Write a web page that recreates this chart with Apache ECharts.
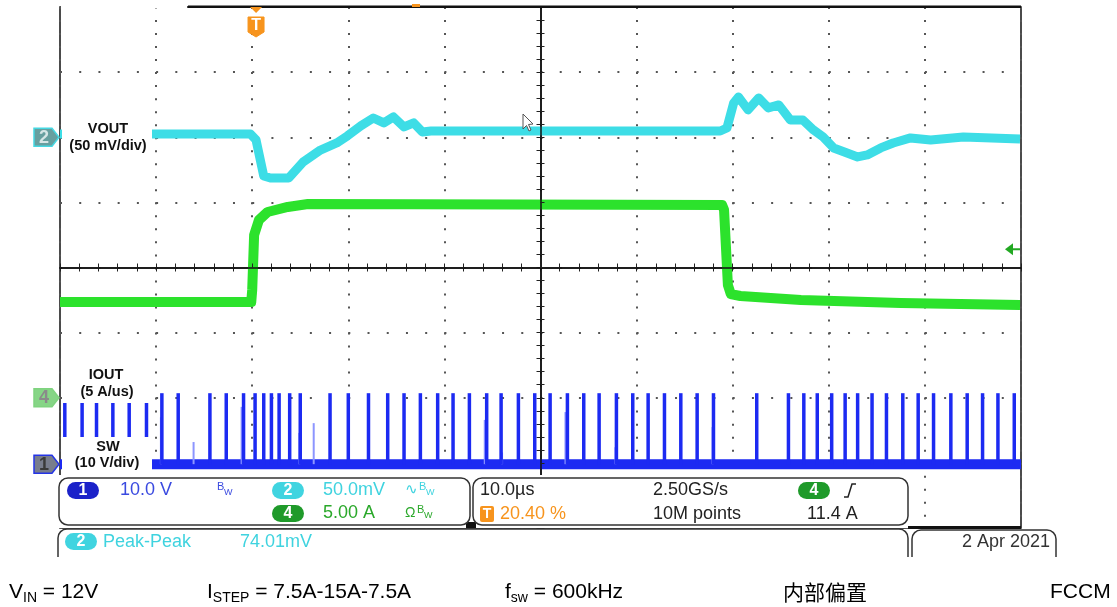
<!DOCTYPE html>
<html>
<head>
<meta charset="utf-8">
<style>html,body{margin:0;padding:0;background:#fff;}#c{width:1117px;height:607px;}</style>
<script src="https://cdn.jsdelivr.net/npm/echarts/dist/echarts.min.js"></script>
</head>
<body>
<div id="c"></div>
<script>
// ---------------- data (time in µs relative to screen centre) ----------------
// Channel 2 : VOUT, AC deviation in mV (50 mV/div)
const voutTime = [-50, -40.3, -30.2, -29.6, -28.8, -28.1, -26.2, -24.7, -22.9, -21.2, -20.1, -18.7, -17.4, -16.3, -15.3, -14.2, -13.2, -12.3, -11.4, 0, 18.7, 19.4, 20.1, 20.6, 21.6, 22.7, 23.7, 24.8, 26.0, 27.3, 28.4, 29.4, 30.5, 31.9, 33.0, 34.0, 35.4, 36.7, 38.5, 40.6, 44.0, 49.9];
const voutMv   = [2.5, 2.5, 2.5, -2.1, -29.7, -31.3, -31.3, -19.0, -9.8, -4.4, 1.0, 8.7, 14.8, 11.0, 15.6, 7.9, 11.0, 4.1, 4.8, 4.8, 4.8, 7.1, 26.3, 30.9, 21.0, 30.2, 22.5, 24.8, 13.3, 13.3, 5.6, 0.2, -8.2, -12.1, -15.1, -13.6, -8.2, -4.4, -0.5, -2.1, 0.2, -1.3];
// Channel 4 : IOUT in A (5 A/div)
const ioutTime = [-50, -30.1, -30.0, -29.8, -29.3, -28.4, -26.3, -24.2, 18.9, 19.1, 19.5, 19.8, 20.8, 27.1, 37.5, 49.9];
const ioutAmp  = [7.35, 7.35, 8.27, 12.5, 13.65, 14.26, 14.65, 14.88, 14.8, 14.42, 8.66, 7.96, 7.81, 7.50, 7.27, 7.12];
// Channel 1 : SW node in V (10 V/div) - switching pulses
const swPulseTime = [-49.5, -47.7, -46.2, -44.5, -42.8, -41.0, -39.4, -37.7, -34.4, -32.7, -30.9, -29.7, -28.8, -28.0, -27.2, -26.1, -25.0, -21.9, -20.0, -17.9, -15.9, -14.2, -12.5, -10.7, -9.1, -7.4, -5.6, -4.1, -2.3, -0.6, 1.0, 2.8, 4.5, 6.1, 7.9, 9.6, 11.2, 12.9, 14.6, 16.3, 18.0, 22.5, 25.8, 27.4, 28.8, 30.3, 31.7, 33.0, 34.5, 36.0, 37.7, 39.3, 40.9, 42.7, 44.4, 46.0, 47.6, 49.3];
const swPulseVolt = [10.9, 10.9, 10.9, 10.9, 10.9, 10.9, 10.9, 10.9, 10.9, 10.9, 10.9, 10.9, 10.9, 10.9, 10.9, 10.9, 10.9, 10.9, 10.9, 10.9, 10.9, 10.9, 10.9, 10.9, 10.9, 10.9, 10.9, 10.9, 10.9, 10.9, 10.9, 10.9, 10.9, 10.9, 10.9, 10.9, 10.9, 10.9, 10.9, 10.9, 10.9, 10.9, 10.9, 10.9, 10.9, 10.9, 10.9, 10.9, 10.9, 10.9, 10.9, 10.9, 10.9, 10.9, 10.9, 10.9, 10.9, 10.9];
const swRuntTime = [-39.5, -36.1, -31.1, -25.1, -23.6, -5.8, -4.0, 2.6, 7.8, 17.9];
const swRuntVolt = [7.2, 3.4, 8.8, 4.8, 6.3, 6.8, 1.8, 8.0, 2.6, 5.7];
const swBaseTime = [-50, 50];
const swBaseVolt = [0, 0];

// channel settings (scale per division, ground position in divisions)
const CH2_SCALE = 50, CH2_POS = 2.0;
const CH4_SCALE = 5, CH4_POS = -2.0;
const CH1_SCALE = 10, CH1_POS = -3.02;
const TRIG_TIME = -29.6;
const TRIG_LEVEL = 11.4;

// ---------------- chart ----------------
const chart = echarts.init(document.getElementById('c'), null, {renderer: 'canvas'});
const CYAN = '#3ddde6', GREEN = '#2ce22c', BLUE = '#1c2af2';

function pulseSeries(times, volts, width, color, z) {
  return {
    type: 'custom', xAxisIndex: 0, yAxisIndex: 0, silent: true, z: z, clip: false,
    data: times.map((t, i) => [t, volts[i]]),
    renderItem: function (params, api) {
      const t = api.value(0), v = api.value(1);
      const p0 = api.coord([t, CH1_POS]);
      const p1 = api.coord([t, CH1_POS + v / CH1_SCALE]);
      return {type: 'line', shape: {x1: p0[0], y1: p0[1], x2: p1[0], y2: p1[1]},
              style: {stroke: color, lineWidth: width}};
    }
  };
}

const tickStyle = {color: '#222', width: 1};
function xAx(pos, split, z) {
  return {
    type: 'value', min: -50, max: 50, interval: 10, position: pos, z: z,
    axisLabel: {show: false},
    axisLine: {show: true, onZero: true, onZeroAxisIndex: 0, lineStyle: {color: '#111', width: 1.5}},
    axisTick: {show: true, length: 4, lineStyle: tickStyle},
    minorTick: {show: true, splitNumber: 5, length: 4, lineStyle: tickStyle},
    splitLine: {show: split, lineStyle: {color: '#555', width: 2, type: [2, 11.02]}}
  };
}
function yAx(pos, split, z) {
  return {
    type: 'value', min: -4, max: 4, interval: 1, position: pos, z: z,
    axisLabel: {show: false},
    axisLine: {show: true, onZero: true, onZeroAxisIndex: 0, lineStyle: {color: '#111', width: 1.5}},
    axisTick: {show: true, length: 4, lineStyle: tickStyle},
    minorTick: {show: true, splitNumber: 5, length: 4, lineStyle: tickStyle},
    splitLine: {show: split, lineStyle: {color: '#555', width: 2, type: [2, 17.22]}}
  };
}

const option = {
  animation: false,
  backgroundColor: '#fff',
  grid: {left: 60, top: 7, width: 961, height: 521, show: true, borderColor: '#111', borderWidth: 1.5, backgroundColor: 'transparent'},
  xAxis: [xAx('bottom', true, 1), xAx('top', false, 10)],
  yAxis: [yAx('left', true, 1), yAx('right', false, 10)],
  series: [
    {type: 'line', name: 'VOUT', showSymbol: false, symbol: 'none', z: 3,
     data: voutTime.map((t, i) => [t, CH2_POS + voutMv[i] / CH2_SCALE]),
     lineStyle: {color: CYAN, width: 9, join: 'round'}},
    {type: 'line', name: 'IOUT', showSymbol: false, symbol: 'none', z: 3,
     data: ioutTime.map((t, i) => [t, CH4_POS + ioutAmp[i] / CH4_SCALE]),
     lineStyle: {color: GREEN, width: 10, join: 'round'}},
    {type: 'line', name: 'SW', showSymbol: false, symbol: 'none', z: 3,
     data: swBaseTime.map((t, i) => [t, CH1_POS + swBaseVolt[i] / CH1_SCALE]),
     lineStyle: {color: BLUE, width: 10}},
    pulseSeries(swRuntTime, swRuntVolt, 2, '#8c95ff', 4),
    pulseSeries(swPulseTime, swPulseVolt, 3.5, BLUE, 5)
  ]
};
chart.setOption(option);

// ---------------- annotations ----------------
const px = (t, v) => chart.convertToPixel({xAxisIndex: 0, yAxisIndex: 0}, [t, v]);
const mctx = document.createElement('canvas').getContext('2d');
function tw(text, font) { mctx.font = font; return mctx.measureText(text).width; }

const SANS = '"Liberation Sans", Arial, sans-serif';
function txt(x, y, text, font, fill, align) {
  align = align || 'left';
  return {type: 'text', z: 120, silent: true,
    style: {x: x, y: y, text: text, font: font, fill: fill,
            textAlign: align, align: align, textVerticalAlign: 'middle', verticalAlign: 'middle'}};
}
function rect(x, y, w, h, fill, stroke, lw, r, z) {
  return {type: 'rect', z: z || 100, silent: true, shape: {x: x, y: y, width: w, height: h, r: r || 0},
          style: {fill: fill, stroke: stroke || null, lineWidth: lw || 0}};
}
function poly(points, fill, stroke, lw, z) {
  return {type: 'polygon', z: z || 105, silent: true, shape: {points: points},
          style: {fill: fill, stroke: stroke || null, lineWidth: lw || 0}};
}
function pline(points, stroke, lw, z) {
  return {type: 'polyline', z: z || 105, silent: true, shape: {points: points},
          style: {stroke: stroke, lineWidth: lw, fill: null}};
}
function pill(x, y, label, fill) {
  return [rect(x, y, 32, 17, fill, null, 0, 8.5, 110),
          txt(x + 16, y + 8.5, label, 'bold 16px ' + SANS, '#fff', 'center')];
}
function chMarker(y, label, fill, stroke, digit) {
  return [poly([[34, y - 9], [52, y - 9], [59, y], [52, y + 9], [34, y + 9]], fill, stroke, 1.5, 105),
          txt(44, y + 0.5, label, 'bold 18px ' + SANS, digit, 'center')];
}
function bw(x, y, color) {
  return [txt(x, y - 3, 'B', '11px ' + SANS, color), txt(x + 7, y + 3, 'W', '9px ' + SANS, color)];
}

const g = [];
const yCh2 = px(0, CH2_POS)[1], yCh4 = px(0, CH4_POS)[1], yCh1 = px(0, CH1_POS)[1];
const xTrig = px(TRIG_TIME, 0)[0];
const yTrigLvl = px(0, CH4_POS + TRIG_LEVEL / CH4_SCALE)[1];
const right = px(50, 0)[0];

// top record bar
g.push(rect(61, 5.5, 126, 3, '#fff', null, 0, 0, 99));
g.push(rect(188, 5.5, right - 188, 2.5, '#111', null, 0, 0, 100));
g.push(rect(412, 4, 8, 3, '#f7941d', null, 0, 0, 101));

// channel label boxes
g.push(rect(62, 117, 90, 39, '#fff'));
g.push(txt(108, 129, 'VOUT', 'bold 14.5px ' + SANS, '#111', 'center'));
g.push(txt(108, 146, '(50 mV/div)', 'bold 14.5px ' + SANS, '#111', 'center'));
g.push(rect(62, 363, 90, 40, '#fff'));
g.push(txt(106, 375, 'IOUT', 'bold 14.5px ' + SANS, '#111', 'center'));
g.push(txt(107, 392, '(5 A/us)', 'bold 14.5px ' + SANS, '#111', 'center'));
g.push(rect(62, 437, 90, 36, '#fff'));
g.push(txt(108, 447, 'SW', 'bold 14.5px ' + SANS, '#111', 'center'));
g.push(txt(107, 463, '(10 V/div)', 'bold 14.5px ' + SANS, '#111', 'center'));

// channel ground markers
g.push(...chMarker(yCh2, '2', '#679f9f', '#45d8e2', '#d6e6e6'));
g.push(...chMarker(yCh4, '4', '#86d586', '#7fd37f', '#8a8a8a'));
g.push(...chMarker(yCh1, '1', '#787d8c', '#2434e6', '#3a3a3a'));

// trigger marker
g.push(poly([[xTrig - 6, 7], [xTrig + 6, 7], [xTrig, 13]], '#f7941d', null, 0, 106));
g.push(poly([[xTrig - 8, 17], [xTrig + 8, 17], [xTrig + 8, 32], [xTrig, 37], [xTrig - 8, 32]], '#f7941d', '#f7941d', 1, 106));
g.push(txt(xTrig, 25.5, 'T', 'bold 16px ' + SANS, '#fff', 'center'));

// trigger level arrow (right)
g.push(poly([[right - 16, yTrigLvl], [right - 8, yTrigLvl - 6], [right - 8, yTrigLvl + 6]], '#22a822', null, 0, 106));
g.push(pline([[right - 9, yTrigLvl], [right - 1, yTrigLvl]], '#22a822', 2));

// mouse cursor
g.push(poly([[523, 114], [523, 129], [526.5, 125.5], [529, 131], [531, 130], [528.5, 124.5], [533, 124]], '#fff', '#555', 1, 108));

// readout panels
g.push(rect(56, 475, 856, 53, '#fff', null, 0, 0, 98));
g.push(rect(59, 478, 411, 47, '#fff', '#333', 1.5, 9, 100));
g.push(rect(473, 478, 435, 47, '#fff', '#333', 1.5, 9, 100));
g.push(rect(466, 522, 10, 6, '#111', null, 0, 0, 99));
g.push(rect(908, 526, right - 908, 3, '#111', null, 0, 0, 99));
const F18 = '18px ' + SANS;
g.push(...pill(67, 482, '1', '#1b22c9'));
g.push(txt(120, 490, '10.0 V', F18, '#3a4ae0'));
g.push(...bw(217, 490, '#3a4ae0'));
g.push(...pill(272, 482, '2', '#40d4e0'));
g.push(txt(323, 490, '50.0mV', F18, '#3fd3df'));
g.push(txt(405, 490, '∿', '15px "DejaVu Sans", sans-serif', '#3fd3df'));
g.push(...bw(419, 490, '#3fd3df'));
g.push(...pill(272, 505, '4', '#1f9a2a'));
g.push(txt(323, 513, '5.00 A', F18, '#2aa82a'));
g.push(txt(405, 513, 'Ω', '14px ' + SANS, '#2aa82a'));
g.push(...bw(417, 513, '#2aa82a'));

g.push(txt(480, 490, '10.0µs', F18, '#222'));
g.push(txt(653, 490, '2.50GS/s', F18, '#222'));
g.push(...pill(798, 482, '4', '#1f9a2a'));
g.push(pline([[844, 497], [848, 497], [852, 484], [856, 484]], '#222', 1.5, 110));
g.push(rect(480, 506, 14, 16, '#f7941d', null, 0, 2, 110));
g.push(txt(487, 514, 'T', 'bold 14px ' + SANS, '#fff', 'center'));
g.push(txt(500, 514, '20.40 %', F18, '#f7941d'));
g.push(txt(653, 514, '10M points', F18, '#222'));
g.push(txt(807, 514, '11.4 A', F18, '#222'));

g.push(rect(58, 529, 850, 42, '#fff', '#333', 1.5, 9, 100));
g.push(...pill(65, 533, '2', '#40d4e0'));
g.push(txt(103, 542, 'Peak-Peak', F18, '#3fd3df'));
g.push(txt(240, 542, '74.01mV', F18, '#3fd3df'));
g.push(rect(912, 530, 144, 41, '#fff', '#333', 1.5, 9, 100));
g.push(txt(1050, 542, '2 Apr 2021', F18, '#333', 'right'));
g.push(rect(0, 557, 1117, 22, '#fff', null, 0, 0, 115));

// bottom conditions row
const mainF = '21px ' + SANS, subF = '14px ' + SANS;
function richRow(x, y, parts) {
  let cx = x;
  for (const p of parts) {
    const f = p[1] ? subF : mainF;
    g.push(txt(cx, p[1] ? y + 6 : y, p[0], f, '#000'));
    cx += tw(p[0], f);
  }
}
richRow(9, 592, [['V', 0], ['IN', 1], [' = 12V', 0]]);
richRow(207, 592, [['I', 0], ['STEP', 1], [' = 7.5A-15A-7.5A', 0]]);
richRow(505, 592, [['f', 0], ['sw', 1], [' = 600kHz', 0]]);
g.push(txt(783, 592, '内部偏置', '21px "Noto Sans CJK SC", sans-serif', '#000'));
g.push(txt(1050, 592, 'FCCM', mainF, '#000'));

chart.setOption({graphic: {elements: g}});
</script>
</body>
</html>
